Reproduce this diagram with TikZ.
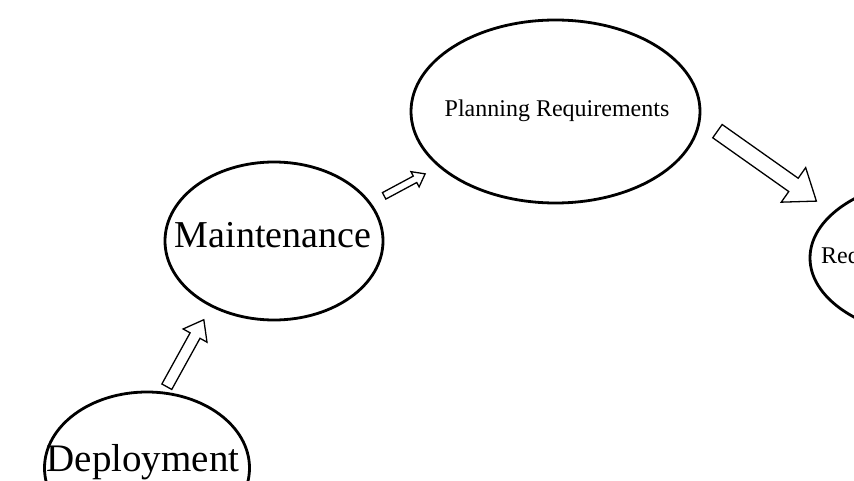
\documentclass[tikz,border=0pt]{standalone}
\usepackage{fontspec}
\setmainfont{Liberation Serif}
\usetikzlibrary{shapes.geometric,shapes.arrows,calc}

\tikzset{
  phase/.style={draw, ellipse, line width=2.8pt, inner sep=0pt},
  blockarrow/.style={draw, single arrow, line width=1.3pt, inner xsep=0pt,
    single arrow tip angle=74, fill=white}
}

\begin{document}
\begin{tikzpicture}[x=1pt,y=1pt]
    \useasboundingbox (0,0) rectangle (854,480);
    \clip (0,0) rectangle (854,480);

    % the phases
    \node[phase, minimum width=289pt, minimum height=183pt] (plan) at (555.5,368.5) {};
    \node[phase, minimum width=218pt, minimum height=158pt] (maint) at (274,239) {};
    \node[phase, minimum width=205pt, minimum height=152pt] (deploy) at (147,12) {};
    \node[phase, minimum width=270pt, minimum height=160pt] (req) at (945,222) {};

    % their names
    \node[font=\fontsize{24}{28}\selectfont] (plantext) at (557,369) {Planning Requirements};
    \node[font=\fontsize{38}{44}\selectfont] (mainttext) at (273,245) {Maintenance};
    \node[anchor=base, font=\fontsize{39}{44}\selectfont] (deploytext) at (143,9) {Deployment};
    \node[anchor=west, inner sep=0pt, font=\fontsize{24}{28}\selectfont] (reqtext) at (821,222) {Requirements};

    % arrow ends
    \coordinate (d1) at (165,90);
    \coordinate (m1) at (202,157);
    \coordinate (m2) at (382,283);
    \coordinate (p1) at (423,305);
    \coordinate (p2) at (713,352);
    \coordinate (r1) at (812,282);

    % block arrows
    \path let \p1=($(m1)-(d1)$) in
      node[blockarrow, rotate={atan2(\y1,\x1)}, minimum height={veclen(\x1,\y1)},
        inner ysep=5pt, single arrow head extend=8pt] (up) at ($(d1)!0.5!(m1)$) {};
    \path let \p1=($(p1)-(m2)$) in
      node[blockarrow, rotate={atan2(\y1,\x1)}, minimum height={veclen(\x1,\y1)},
        inner ysep=3pt, single arrow head extend=5pt] (next) at ($(m2)!0.5!(p1)$) {};
    \path let \p1=($(r1)-(p2)$) in
      node[blockarrow, rotate={atan2(\y1,\x1)}, minimum height={veclen(\x1,\y1)},
        inner ysep=7.5pt, single arrow head extend=13pt] (down) at ($(p2)!0.5!(r1)$) {};
\end{tikzpicture}
\end{document}
